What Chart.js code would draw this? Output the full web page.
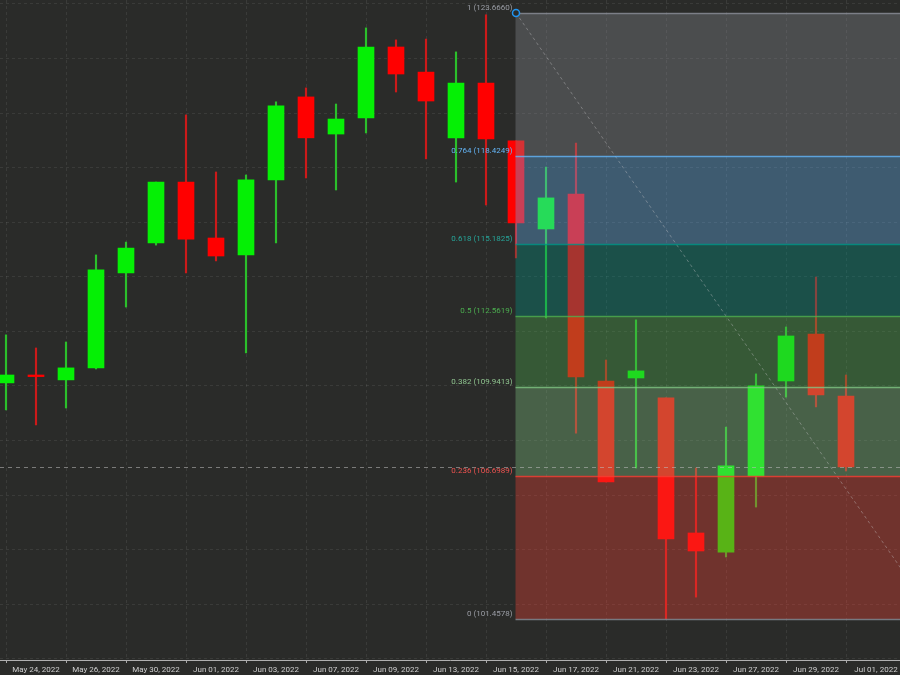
<!DOCTYPE html>
<html>
<head>
<meta charset="utf-8">
<script src="https://cdn.jsdelivr.net/npm/chart.js@4.4.0/dist/chart.umd.min.js"></script>
<style>
  html, body { margin: 0; padding: 0; background: #2a2b29; }
  #wrap { width: 900px; height: 675px; }
</style>
</head>
<body>
<div id="wrap"><canvas id="chart"></canvas></div>
<script>
// trading days (last slot Jul 01 has no candle)
const dates = ["May 23, 2022", "May 24, 2022", "May 25, 2022", "May 26, 2022", "May 27, 2022",
  "May 30, 2022", "May 31, 2022", "Jun 01, 2022", "Jun 02, 2022", "Jun 03, 2022",
  "Jun 06, 2022", "Jun 07, 2022", "Jun 08, 2022", "Jun 09, 2022", "Jun 10, 2022",
  "Jun 13, 2022", "Jun 14, 2022", "Jun 15, 2022", "Jun 16, 2022", "Jun 17, 2022",
  "Jun 20, 2022", "Jun 21, 2022", "Jun 22, 2022", "Jun 23, 2022", "Jun 24, 2022",
  "Jun 27, 2022", "Jun 28, 2022", "Jun 29, 2022", "Jun 30, 2022", "Jul 01, 2022"]
const tickIdx = [1, 3, 5, 7, 9, 11, 13, 15, 17, 19, 21, 23, 25, 27, 29]

const opens = [110.11, 110.40, 110.22, 110.66, 114.14, 115.24, 117.47, 115.42, 114.80, 117.55,
  120.59, 119.23, 119.82, 122.42, 121.50, 119.09, 121.10, 118.98, 115.75, 117.03,
  110.18, 110.29, 109.56, 104.61, 103.91, 106.70, 110.18, 111.90, 109.63]
const highs = [111.87, 111.39, 111.61, 114.80, 115.27, 117.47, 119.93, 117.84, 117.73, 120.41,
  120.92, 120.33, 123.12, 122.68, 122.71, 122.24, 123.60, 118.98, 118.02, 118.90,
  110.95, 112.42, 109.56, 106.99, 108.49, 110.44, 112.16, 113.99, 110.40]
const lows = [109.12, 108.57, 109.19, 110.62, 112.89, 115.16, 114.14, 114.58, 111.21, 115.24,
  117.62, 117.18, 119.27, 120.77, 118.32, 117.47, 116.63, 114.69, 112.49, 108.27,
  106.48, 106.99, 101.46, 102.26, 103.73, 105.56, 109.59, 109.23, 106.88]
const closes = [110.40, 110.34, 110.66, 114.25, 115.05, 117.47, 115.38, 114.76, 117.55, 120.26,
  119.09, 119.78, 122.42, 121.43, 120.44, 121.10, 119.05, 115.97, 116.89, 110.33,
  106.48, 110.55, 104.39, 103.95, 107.07, 110.00, 111.83, 109.67, 107.03]

// fibonacci retracement
const fibRatios = ["1", "0.764", "0.618", "0.5", "0.382", "0.236", "0"]
const fibPrices = [123.6660, 118.4249, 115.1825, 112.5619, 109.9413, 106.6989, 101.4578]
const fibColors = ["#8a8d96", "#64b5f6", "#009688", "#4caf50", "#81c784", "#f44336", "#8a8d96"]
const fibText = ["#9a9da5", "#64b5f6", "#26a69a", "#4caf50", "#8fc48f", "#ef5350", "#9a9da5"]
const fibAnchorIdx = [17, 31]

const yGrid = [100, 102, 104, 106, 108, 110, 112, 114, 116, 118, 120, 122, 124]

const UP = "#05f005"
const DOWN = "#ff0000"
const FONT = "'Roboto', 'Liberation Sans', sans-serif"

const rgba = (hex, a) => {
  const n = parseInt(hex.slice(1), 16)
  return `rgba(${(n >> 16) & 255},${(n >> 8) & 255},${n & 255},${a})`
}

const bodies = opens.map((o, i) => ({ x: i, y: [o, closes[i]] }))
const wicks = opens.map((o, i) => ({ x: i, y: [lows[i], highs[i]] }))
const isUp = opens.map((o, i) => closes[i] >= o)

const fibPlugin = {
  id: "fib",
  afterDatasetsDraw(chart) {
    const { ctx, chartArea, scales } = chart
    const x = scales.x, y = scales.y
    const left = x.getPixelForValue(fibAnchorIdx[0]) - 0.5
    const right = chartArea.right
    ctx.save()
    ctx.beginPath()
    ctx.rect(chartArea.left, chartArea.top, chartArea.width, chartArea.height)
    ctx.clip()

    // zones
    for (let k = 0; k < fibPrices.length - 1; k++) {
      const t = y.getPixelForValue(fibPrices[k])
      const b = y.getPixelForValue(fibPrices[k + 1])
      ctx.fillStyle = rgba(fibColors[k], 0.35)
      ctx.fillRect(left, t, right - left, b - t)
    }

    // last price line
    const lp = Math.round(y.getPixelForValue(closes[closes.length - 1])) + 0.5
    ctx.strokeStyle = "rgba(190,190,190,0.55)"
    ctx.lineWidth = 1
    ctx.setLineDash([4, 4])
    ctx.beginPath()
    ctx.moveTo(chartArea.left, lp)
    ctx.lineTo(chartArea.right, lp)
    ctx.stroke()

    // trend line
    ctx.strokeStyle = "rgba(200,200,200,0.4)"
    ctx.setLineDash([3, 3])
    ctx.beginPath()
    ctx.moveTo(x.getPixelForValue(fibAnchorIdx[0]), y.getPixelForValue(fibPrices[0]))
    ctx.lineTo(x.getPixelForValue(fibAnchorIdx[1]), y.getPixelForValue(fibPrices[fibPrices.length - 1]))
    ctx.stroke()
    ctx.setLineDash([])

    // level lines + labels
    ctx.font = "8px " + FONT
    ctx.textAlign = "right"
    ctx.textBaseline = "middle"
    fibPrices.forEach((p, k) => {
      const py = Math.round(y.getPixelForValue(p)) + 0.5
      ctx.strokeStyle = rgba(fibColors[k], 0.8)
      ctx.lineWidth = 1.5
      ctx.beginPath()
      ctx.moveTo(left, py)
      ctx.lineTo(right, py)
      ctx.stroke()
      ctx.fillStyle = fibText[k]
      ctx.fillText(`${fibRatios[k]} (${p.toFixed(4)})`, left - 3, py - 6)
    })

    // anchor marker
    ctx.strokeStyle = "#2196f3"
    ctx.lineWidth = 1.5
    ctx.fillStyle = "#2a2b29"
    ctx.beginPath()
    ctx.arc(x.getPixelForValue(fibAnchorIdx[0]), y.getPixelForValue(fibPrices[0]), 3.5, 0, Math.PI * 2)
    ctx.fill()
    ctx.stroke()
    ctx.restore()
  },
}

new Chart(document.getElementById("chart"), {
  type: "bar",
  data: {
    datasets: [
      {
        label: "body",
        data: bodies,
        backgroundColor: isUp.map((u) => (u ? UP : DOWN)),
        barThickness: 16,
        minBarLength: 1.5,
        order: 1,
      },
      {
        label: "wick",
        data: wicks,
        backgroundColor: isUp.map((u) => (u ? "#2bbf2b" : "#cc1a1a")),
        barThickness: 1.5,
        order: 2,
      },
    ],
  },
  options: {
    responsive: true,
    maintainAspectRatio: false,
    animation: false,
    layout: { padding: 0 },
    datasets: { bar: { grouped: false } },
    plugins: { legend: { display: false }, tooltip: { enabled: false } },
    scales: {
      x: {
        type: "linear",
        min: -0.2,
        max: 29.8,
        offset: false,
        afterBuildTicks: (ax) => { ax.ticks = tickIdx.map((v) => ({ value: v })) },
        afterFit: (s) => { s.height = 15 },
        ticks: {
          autoSkip: false,
          maxRotation: 0,
          padding: 2,
          color: "#cfcfcf",
          font: { family: FONT, size: 8 },
          callback: (v) => dates[v],
        },
        grid: { color: "rgba(255,255,255,0.08)", tickColor: "#aaaaaa", tickLength: 3 },
        border: { display: true, color: "#b0b0b0", width: 1, dash: [3, 3] },
      },
      y: {
        min: 99.955,
        max: 124.142,
        afterBuildTicks: (ax) => { ax.ticks = yGrid.map((v) => ({ value: v })) },
        afterFit: (s) => { s.width = 0 },
        ticks: { display: false },
        grid: { color: "rgba(255,255,255,0.08)", drawTicks: false },
        border: { display: false, dash: [3, 3] },
      },
    },
  },
  plugins: [fibPlugin],
})
</script>
</body>
</html>
